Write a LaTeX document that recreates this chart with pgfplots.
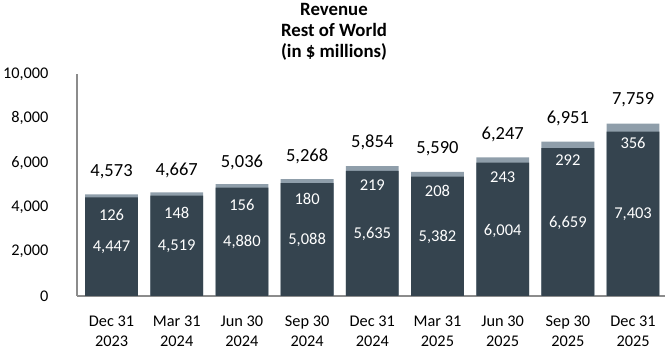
\documentclass[border=0pt]{standalone}
\usepackage{fontspec}
\setmainfont{Carlito}
\usepackage{pgfplots}
\pgfplotsset{compat=1.18}
\definecolor{darkbar}{HTML}{35444F}
\definecolor{lightbar}{HTML}{8F9EAA}
\definecolor{axisgrey}{HTML}{8C8C8C}
\begin{document}
\begin{tikzpicture}
\begin{axis}[
  at={(0,0)}, anchor=south west, scale only axis,
  width=588pt, height=222pt,
  xmin=-0.53, xmax=8.49, ymin=0, ymax=10000,
  axis x line*=bottom, axis y line*=left,
  x axis line style={draw=axisgrey, line width=2.2pt, -},
  y axis line style={draw=axisgrey, line width=1.3pt, -},
  major tick length=0pt,
  xtick={0,1,2,3,4,5,6,7,8},
  xticklabels={{Dec 31\\2023},{Mar 31\\2024},{Jun 30\\2024},{Sep 30\\2024},{Dec 31\\2024},{Mar 31\\2025},{Jun 30\\2025},{Sep 30\\2025},{Dec 31\\2025}},
  xticklabel style={align=center, font=\fontsize{16.3}{20}\selectfont, yshift=-16pt},
  ytick={0,2000,4000,6000,8000,10000},
  scaled y ticks=false,
  /pgf/number format/assume math mode=true,
  /pgf/number format/1000 sep={,},
  yticklabel style={font=\fontsize{16.3}{19}\selectfont, xshift=-25pt},
  clip=false,
]
% total (light) bars, then dark bars on top
\addplot[ybar, bar width=0.81, bar shift=0pt, fill=lightbar, draw=none] coordinates {
  (0,4573) (1,4667) (2,5036) (3,5268) (4,5854) (5,5590) (6,6247) (7,6951) (8,7759)};
\addplot[ybar, bar width=0.81, bar shift=0pt, fill=darkbar, draw=none] coordinates {
  (0,4447) (1,4519) (2,4880) (3,5088) (4,5635) (5,5382) (6,6004) (7,6659) (8,7403)};
% labels of the dark segment
\addplot[only marks, mark=none, nodes near coords, point meta=explicit symbolic,
  nodes near coords style={anchor=center, text=white, font=\fontsize{16.5}{19}\selectfont}]
  table[meta=lab] {
x y lab
0 2207 {4,447}
1 2240 {4,519}
2 2420 {4,880}
3 2525 {5,088}
4 2790 {5,635}
5 2670 {5,382}
6 2950 {6,004}
7 3300 {6,659}
8 3670 {7,403}
};
% labels of the light segment
\addplot[only marks, mark=none, nodes near coords, point meta=explicit symbolic,
  nodes near coords style={anchor=center, text=white, font=\fontsize{16.5}{19}\selectfont}]
  table[meta=lab] {
x y lab
0 3650 126
1 3752 148
2 4100 156
3 4370 180
4 5000 219
5 4745 208
6 5350 243
7 6100 292
8 6880 356
};
% totals
\addplot[only marks, mark=none, nodes near coords, point meta=explicit symbolic,
  nodes near coords style={anchor=center, text=black, font=\fontsize{18.5}{21}\selectfont}]
  table[meta=lab] {
x y lab
0 5585 {4,573}
1 5676 {4,667}
2 6020 {5,036}
3 6300 {5,268}
4 6920 {5,854}
5 6650 {5,590}
6 7280 {6,247}
7 8000 {6,951}
8 8830 {7,759}
};
\end{axis}
\node[align=center, font=\bfseries\fontsize{18.8}{21}\selectfont] at (257pt,264pt) {Revenue\\Rest of World\\(in \$ millions)};
\pgfresetboundingbox
\path (-77pt,-56pt) rectangle (593pt,296pt);
\end{tikzpicture}
\end{document}
